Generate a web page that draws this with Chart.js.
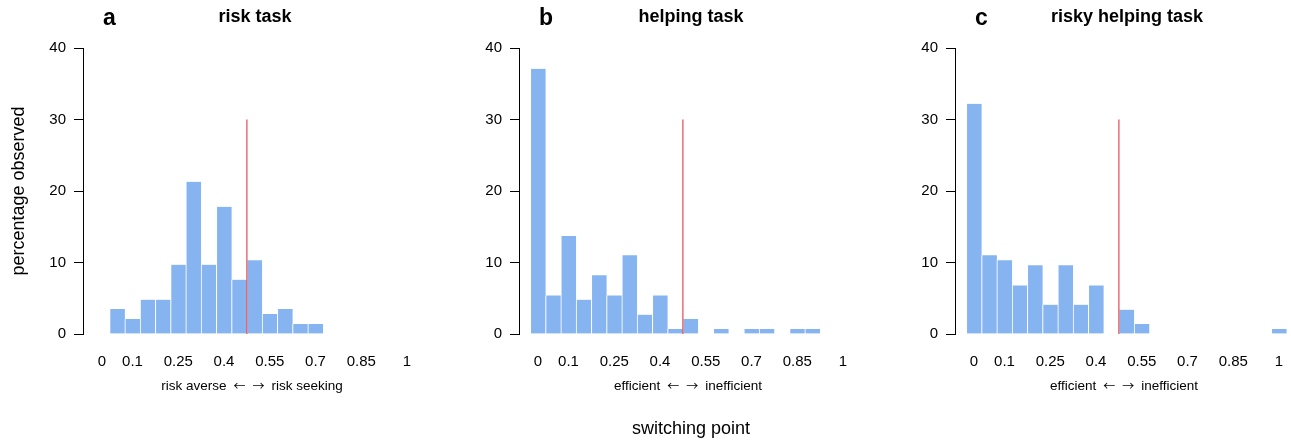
<!DOCTYPE html>
<html>
<head>
<meta charset="utf-8">
<script src="https://cdn.jsdelivr.net/npm/chart.js@4.4.1/dist/chart.umd.min.js"></script>
<style>
  html, body { margin: 0; padding: 0; background: #fff; overflow: hidden; }
  #wrap { position: relative; width: 1291px; height: 441px; overflow: hidden; }
  .panel { position: absolute; top: 0; width: 436px; height: 441px; }
</style>
</head>
<body>
<div id="wrap">
  <div class="panel" style="left:0px"><canvas id="riskChart"></canvas></div>
  <div class="panel" style="left:436px"><canvas id="helpChart"></canvas></div>
  <div class="panel" style="left:872px"><canvas id="riskyHelpChart"></canvas></div>
</div>
<script>
// switching point bins (bar centres) and percentage observed per bin
const riskX = [0.05, 0.1, 0.15, 0.2, 0.25, 0.3, 0.35, 0.4, 0.45, 0.5, 0.55, 0.6, 0.65, 0.7]
const riskPct = [3.5, 2.1, 4.8, 4.8, 9.7, 21.3, 9.7, 17.8, 7.6, 10.3, 2.8, 3.5, 1.4, 1.4]

const helpX = [0, 0.05, 0.1, 0.15, 0.2, 0.25, 0.3, 0.35, 0.4, 0.45, 0.5, 0.6, 0.7, 0.75, 0.85, 0.9]
const helpPct = [37.1, 5.4, 13.7, 4.8, 8.2, 5.4, 11.0, 2.7, 5.4, 0.7, 2.1, 0.7, 0.7, 0.7, 0.7, 0.7]

const riskyHelpX = [0, 0.05, 0.1, 0.15, 0.2, 0.25, 0.3, 0.35, 0.4, 0.5, 0.55, 1]
const riskyHelpPct = [32.2, 11.0, 10.3, 6.8, 9.6, 4.1, 9.6, 4.1, 6.8, 3.4, 1.4, 0.7]

const xTicks = [0, 0.1, 0.25, 0.4, 0.55, 0.7, 0.85, 1]
const yTicks = [0, 10, 20, 30, 40]

// reference line (indifference point)
const refX = 0.475
const refTop = 30

const FONT = '"Liberation Sans", Arial, Helvetica, sans-serif'
const ARROW_FONT = '"Noto Sans CJK SC", "DejaVu Sans", sans-serif'
const BAR_BLUE = '#86b4f0'

const panelText = {
  id: 'panelText',
  afterDraw(chart, args, opts) {
    const { ctx, chartArea } = chart
    ctx.save()
    ctx.fillStyle = '#000'
    ctx.textBaseline = 'alphabetic'
    ctx.textAlign = 'left'
    ctx.font = 'bold 23px ' + FONT
    ctx.fillText(opts.letter, chartArea.left + 20, 25)
    ctx.textAlign = 'center'
    ctx.font = 'bold 18px ' + FONT
    ctx.fillText(opts.title, chartArea.left + 172, 22)
    if (opts.extra) {
      ctx.font = '18px ' + FONT
      ctx.fillText(opts.extra, opts.extraX, 434)
    }

    // axis sub-label: "left ← → right", thin arrows
    const parts = [
      { t: opts.subLeft, f: '13.5px ' + FONT },
      { t: '\u2190', f: '12px ' + ARROW_FONT },
      { t: '\u2192', f: '12px ' + ARROW_FONT },
      { t: opts.subRight, f: '13.5px ' + FONT }
    ]
    const gap = 7
    let total = gap * (parts.length - 1)
    parts.forEach(p => { ctx.font = p.f; p.w = ctx.measureText(p.t).width; total += p.w })
    let x = (chartArea.left + chartArea.right) / 2 - total / 2
    ctx.textAlign = 'left'
    ctx.textBaseline = 'middle'
    parts.forEach(p => {
      ctx.font = p.f
      ctx.fillText(p.t, x, 386)
      x += p.w + gap
    })
    ctx.restore()
  }
}

function makePanel(id, letter, title, xs, pcts, subLeft, subRight, yTitle, extra) {
  new Chart(document.getElementById(id), {
    type: 'bar',
    data: {
      datasets: [
        {
          type: 'line',
          data: [{ x: refX, y: 0 }, { x: refX, y: refTop }],
          borderColor: 'rgba(226, 70, 80, 0.9)',
          borderWidth: 1.3,
          pointRadius: 0,
          order: 0
        },
        {
          type: 'bar',
          data: xs.map((x, i) => ({ x: x, y: pcts[i] })),
          backgroundColor: BAR_BLUE,
          borderColor: '#fff',
          borderWidth: { left: 1, right: 0, top: 0, bottom: 0 },
          borderSkipped: false,
          categoryPercentage: 1,
          barPercentage: 1,
          order: 1
        }
      ]
    },
    options: {
      responsive: true,
      maintainAspectRatio: false,
      animation: false,
      events: [],
      layout: { padding: { top: 48, right: 15, left: 0, bottom: 0 } },
      plugins: {
        legend: { display: false },
        tooltip: { enabled: false },
        panelText: {
          letter: letter,
          title: title,
          subLeft: subLeft,
          subRight: subRight,
          extra: extra ? extra.text : null,
          extraX: extra ? extra.x : 0
        }
      },
      scales: {
        x: {
          type: 'linear',
          min: -0.0623,
          max: 1.0459,
          offset: false,
          grid: { display: false, drawTicks: false },
          border: { display: false },
          afterFit: s => { s.height = 107 },
          afterBuildTicks: s => { s.ticks = xTicks.map(v => ({ value: v })) },
          ticks: {
            autoSkip: false,
            maxRotation: 0,
            padding: 19,
            color: '#000',
            font: { family: FONT, size: 15 },
            callback: v => String(v)
          }
        },
        y: {
          min: 0,
          max: 40,
          afterFit: s => { s.width = 83 },
          afterBuildTicks: s => { s.ticks = yTicks.map(v => ({ value: v })) },
          grid: { display: true, drawOnChartArea: false, drawTicks: true, tickLength: 9, color: '#000', lineWidth: 1 },
          border: { display: true, color: '#000', width: 1 },
          ticks: {
            padding: 8,
            color: '#000',
            font: { family: FONT, size: 15 }
          },
          title: {
            display: !!yTitle,
            text: yTitle || '',
            color: '#000',
            font: { family: FONT, size: 18 },
            padding: { top: 8, bottom: 0 }
          }
        }
      }
    },
    plugins: [panelText]
  })
}

makePanel('riskChart', 'a', 'risk task', riskX, riskPct, 'risk averse', 'risk seeking', 'percentage observed', null)
makePanel('helpChart', 'b', 'helping task', helpX, helpPct, 'efficient', 'inefficient', null, { text: 'switching point', x: 255 })
makePanel('riskyHelpChart', 'c', 'risky helping task', riskyHelpX, riskyHelpPct, 'efficient', 'inefficient', null, null)
</script>
</body>
</html>
